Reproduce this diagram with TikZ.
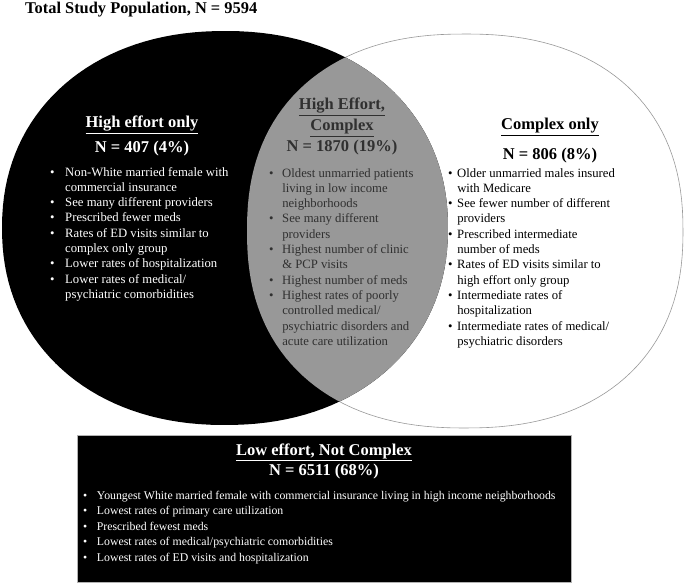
\documentclass[tikz,border=0pt]{standalone}
\usepackage{fontspec}
\setmainfont{Liberation Serif}
\usetikzlibrary{positioning}
\definecolor{lensgray}{RGB}{152,152,152}
\definecolor{lenstext}{RGB}{48,48,48}
\newcommand{\blist}[2]{\begin{tabular}[t]{@{}l@{\hspace{#1}}l@{}}#2\end{tabular}}
\newcommand{\effortpath}{plot [domain=0.5:360.5, samples=145, variable=\t]
  ({225+223*cos(\t)*abs(cos(\t))^(-0.07)}, {228+197*sin(\t)*abs(sin(\t))^(-0.07)}) -- cycle}
\newcommand{\complexpath}{plot [domain=0.5:360.5, samples=145, variable=\t]
  ({465+218*cos(\t)*abs(cos(\t))^(-0.13)}, {231+197*sin(\t)*abs(sin(\t))^(-0.13)}) -- cycle}
\begin{document}
\begin{tikzpicture}[x=1pt,y=-1pt,
    headtxt/.style = {inner sep=0pt, anchor=base, font=\fontsize{16.5}{19}\selectfont\bfseries},
    listtxt/.style = {inner sep=0pt, anchor=base west, align=left, font=\fontsize{12.7}{15.3}\selectfont}]
  \useasboundingbox (0,0) rectangle (685,583);
  \filldraw [fill = white, draw = gray!80, line width = 0.6pt] \complexpath;
  \fill [black] \effortpath;
  \begin{scope}
    \clip \effortpath;
    \fill [lensgray] \complexpath;
  \end{scope}
  \filldraw [fill = black, draw = gray!60, line width = 0.6pt] (77,435) rectangle (571,582);
  \node [inner sep=0pt, anchor=base west, font=\fontsize{16.4}{19}\selectfont\bfseries] (title) at (25,14) {Total Study Population, N = 9594};
  \node [headtxt, white] (hiLabel) at (142,128) {\underline{High effort only}};
  \node [headtxt, white] (hiN) at (142,153) {N = 407 (4\%)};
  \node [listtxt, white] (hiList) at (50,176) {\blist{10.6pt}{%
    \textbullet & Non-White married female with\\
    & commercial insurance\\
    \textbullet & See many different providers\\
    \textbullet & Prescribed fewer meds\\
    \textbullet & Rates of ED visits similar to\\
    & complex only group\\
    \textbullet & Lower rates of hospitalization\\
    \textbullet & Lower rates of medical/\\
    & psychiatric comorbidities}};
  \node [headtxt, lenstext] (hcLabel) at (342,110) {\underline{High Effort,}};
  \node [headtxt, lenstext] (hcLabelB) at (342,131) {\underline{Complex}};
  \node [headtxt, lenstext] (hcN) at (342,151) {N = 1870 (19\%)};
  \node [listtxt, lenstext] (hcList) at (269,177) {\blist{8.6pt}{%
    \textbullet & Oldest unmarried patients\\
    & living in low income\\
    & neighborhoods\\
    \textbullet & See many different\\
    & providers\\
    \textbullet & Highest number of clinic\\
    & \& PCP visits\\
    \textbullet & Highest number of meds\\
    \textbullet & Highest rates of poorly\\
    & controlled medical/\\
    & psychiatric disorders and\\
    & acute care utilization}};
  \node [headtxt] (coLabel) at (550,130) {\underline{Complex only}};
  \node [headtxt] (coN) at (550,160) {N = 806 (8\%)};
  \node [listtxt] (coList) at (448,177) {\blist{4.6pt}{%
    \textbullet & Older unmarried males insured\\
    & with Medicare\\
    \textbullet & See fewer number of different\\
    & providers\\
    \textbullet & Prescribed intermediate\\
    & number of meds\\
    \textbullet & Rates of ED visits similar to\\
    & high effort only group\\
    \textbullet & Intermediate rates of\\
    & hospitalization\\
    \textbullet & Intermediate rates of medical/\\
    & psychiatric disorders}};
  \node [headtxt, white] (loLabel) at (324,455) {\underline{Low effort, Not Complex}};
  \node [headtxt, white] (loN) at (324,475) {N = 6511 (68\%)};
  \node [listtxt, white, font=\fontsize{11.8}{15.5}\selectfont] (loList) at (83,499) {\blist{9.6pt}{%
    \textbullet & Youngest White married female with commercial insurance living in high income neighborhoods\\
    \textbullet & Lowest rates of primary care utilization\\
    \textbullet & Prescribed fewest meds\\
    \textbullet & Lowest rates of medical/psychiatric comorbidities\\
    \textbullet & Lowest rates of ED visits and hospitalization}};
\end{tikzpicture}
\end{document}
